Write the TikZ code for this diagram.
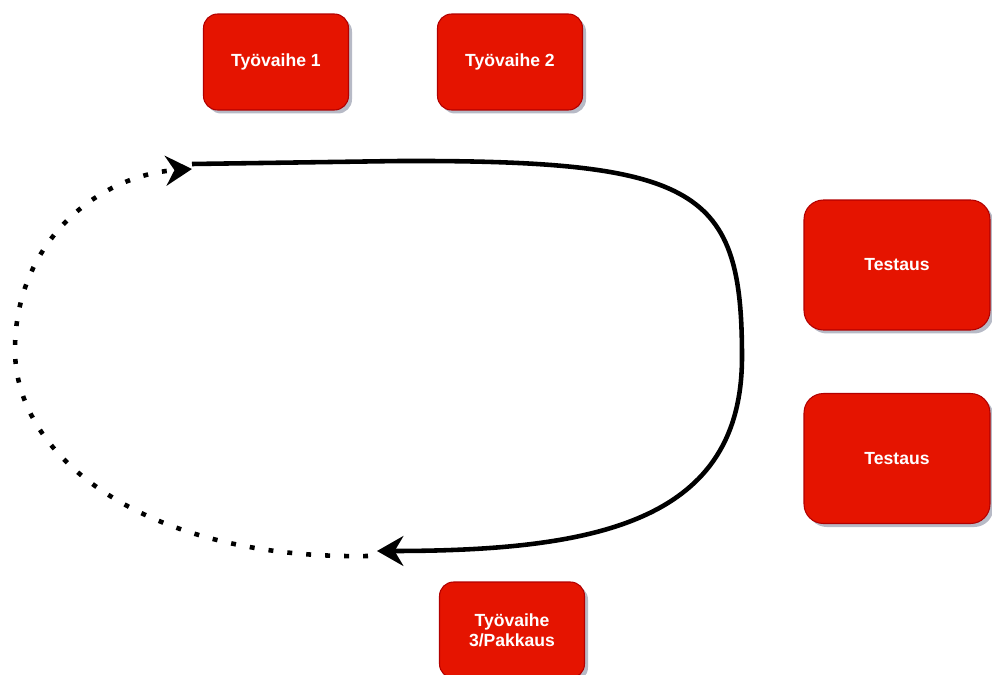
\documentclass[tikz,border=0pt]{standalone}
\usepackage{fontspec}
\setmainfont{Liberation Sans}
\usetikzlibrary{arrows.meta, positioning, shadows}
\definecolor{vaihered}{HTML}{E51400}
\definecolor{vaiheline}{HTML}{B20000}
\definecolor{varjo}{HTML}{4A5270}

\begin{document}
\begin{tikzpicture}[x=0.02cm, y=-0.02cm, font=\fontsize{10}{11.5}\selectfont\bfseries,
    vaihe/.style={draw=vaiheline, fill=vaihered, text=white, rounded corners=8pt, align=center,
        line width=0.6pt, minimum width=2.9cm, minimum height=1.92cm,
        drop shadow={shadow xshift=2pt, shadow yshift=-2pt, fill=varjo, opacity=0.4}},
    testi/.style={vaihe, minimum width=3.72cm, minimum height=2.6cm, rounded corners=11pt},
    kierto/.style={line width=2.6pt, -{Stealth[length=15pt, width=17pt, inset=5pt]}},
    paluu/.style={kierto, dash pattern=on 2.8pt off 8pt}]
    \clip (0,0) rectangle (992,675);
    % tyovaiheet ja testaus
    \node[vaihe] (v1) at (276,62) {Työvaihe 1};
    \node[vaihe] (v2) at (510,62) {Työvaihe 2};
    \node[testi] (t1) at (897,265) {Testaus};
    \node[testi, below=1.25cm of t1] (t2) {Testaus};
    \node[vaihe] (v3) at (512,630) {Työvaihe\\3/Pakkaus};
    % kierron paat
    \coordinate (alku) at (192,164);
    \coordinate (loppu) at (377,551);
    \coordinate (palaa) at (368,556);
    \coordinate (kaari) at (192,169);
    \draw[kierto] (alku) -- (400,161) .. controls (700,160) and (742,190) .. (742,357)
        .. controls (742,520) and (600,551) .. (loppu);
    \draw[paluu] (palaa) .. controls (150,560) and (15,460) .. (15,350)
        .. controls (15,240) and (100,175) .. (kaari);
\end{tikzpicture}
\end{document}
